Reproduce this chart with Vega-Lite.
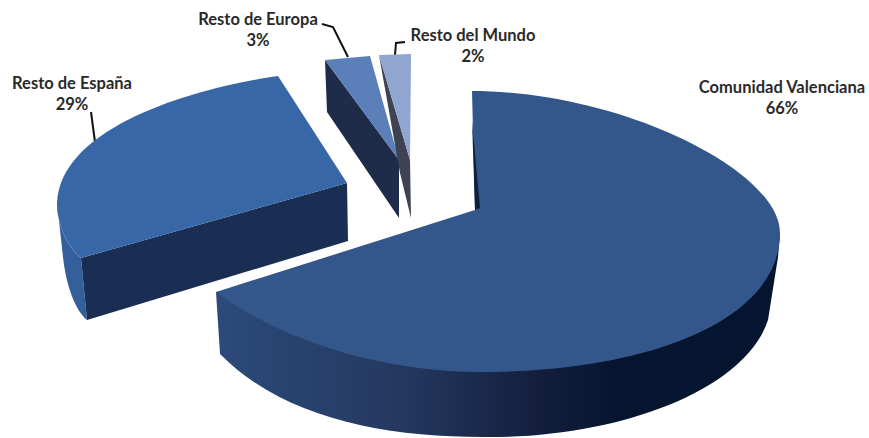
{
"$schema":"https://vega.github.io/schema/vega-lite/v6.json",
"width":869,"height":438,"padding":0,"autosize":"none","background":"white",
"config":{"view":{"stroke":null}},
"data":{"values":[
{"sector":"Resto de España","share":29},
{"sector":"Resto de Europa","share":3},
{"sector":"Resto del Mundo","share":2},
{"sector":"Comunidad Valenciana","share":66}]},
"transform":[{"calculate":"datum.sector + '\\n' + datum.share + '%'","as":"label"}],
"encoding":{
"x":{"field":"sector","type":"nominal","axis":null,"scale":{"domain":["Resto de España","Resto de Europa","Resto del Mundo","Comunidad Valenciana"],"range":[347,476],"padding":0}},
"y":{"field":"sector","type":"nominal","axis":null,"scale":{"domain":["Resto de España","Resto de Europa","Resto del Mundo","Comunidad Valenciana"],"range":[183,210],"padding":0}}
},
"layer":[
{"transform":[{"filter":"datum.sector==='Resto de España'"}],"mark":{"type":"point","size":4,"opacity":1,"filled":false,"stroke":"#111111","strokeWidth":2,"shape":"M-252,-41 L-256,-71"}},
{"transform":[{"filter":"datum.sector==='Resto de España'"}],"mark":{"type":"point","size":4,"opacity":1,"filled":true,"fill":"#33609b","shape":"M-290,20 L-284,74 C-281,102,-272,127,-260,137 L-266,75 C-279,65,-290,42,-290,20 Z"}},
{"transform":[{"filter":"datum.sector==='Resto de España'"}],"mark":{"type":"point","size":4,"opacity":1,"filled":true,"fill":"#1a2d52","shape":"M-266,75 L0,0 L1,58 L-260,137 Z"}},
{"transform":[{"filter":"datum.sector==='Resto de España'"}],"mark":{"type":"point","size":4,"opacity":1,"filled":true,"fill":"#3767a6","shape":"M-69,-107 C-147,-96,-287,-58,-290,20 C-290,42,-279,65,-266,75 L0,0 Z"}},
{"transform":[{"filter":"datum.sector==='Resto de Europa'"}],"mark":{"type":"point","size":4,"opacity":1,"filled":false,"stroke":"#111111","strokeWidth":2,"shape":"M-42,-135 L-57,-165 L-68,-168"}},
{"transform":[{"filter":"datum.sector==='Resto de Europa'"}],"mark":{"type":"point","size":4,"opacity":1,"filled":true,"fill":"#1e2c4a","shape":"M-65,-132 L-63,-80 L9,26 L9,-32 Z"}},
{"transform":[{"filter":"datum.sector==='Resto de Europa'"}],"mark":{"type":"point","size":4,"opacity":1,"filled":true,"fill":"#5b7fb9","shape":"M-65,-132 L-20,-136 L9,-32 Z"}},
{"transform":[{"filter":"datum.sector==='Resto del Mundo'"}],"mark":{"type":"point","size":4,"opacity":1,"filled":false,"stroke":"#111111","strokeWidth":2,"shape":"M-38,-146 L-37,-158 L-28,-159"}},
{"transform":[{"filter":"datum.sector==='Resto del Mundo'"}],"mark":{"type":"point","size":4,"opacity":1,"filled":true,"fill":"#3e4252","shape":"M-54,-146 L-23,-41 L-22,17 L-33,-28 Z"}},
{"transform":[{"filter":"datum.sector==='Resto del Mundo'"}],"mark":{"type":"point","size":4,"opacity":1,"filled":true,"fill":"#90a5cf","shape":"M-54,-146 L-22,-147 L-23,-41 Z"}},
{"transform":[{"filter":"datum.sector==='Comunidad Valenciana'"}],"mark":{"type":"point","size":4,"opacity":1,"filled":true,"fill":{"gradient":"linear","x1":0,"y1":0,"x2":1,"y2":0,"stops":[{"offset":0,"color":"#2c4a7a"},{"offset":0.33,"color":"#24385f"},{"offset":0.57,"color":"#131f3d"},{"offset":0.71,"color":"#06152f"},{"offset":1,"color":"#051530"}]},"shape":"M-260,82 L-256,144 C-191,210,-86,228,14,227 C144,227,269,180,292,110 L302,47 L304,23 Z"}},
{"transform":[{"filter":"datum.sector==='Comunidad Valenciana'"}],"mark":{"type":"point","size":4,"opacity":1,"filled":true,"fill":"#34578b","shape":"M-4,-119 C144,-119,304,-40,304,23 C304,110,174,162,4,162 C-96,162,-196,130,-260,82 L-1,0 Z"}},
{"transform":[{"filter":"datum.sector==='Comunidad Valenciana'"}],"mark":{"type":"point","size":4,"opacity":1,"filled":true,"fill":"#0f1f3d","shape":"M-4,-90 L-1,0 L4,-2 Z"}},
{"transform":[{"filter":"datum.sector==='Resto de España'"}],"mark":{"type":"text","font":"Lato","fontSize":16.5,"fontWeight":"bold","fill":"#2a2a2a","align":"center","baseline":"alphabetic","lineBreak":"\n","lineHeight":21,"dx":-275,"dy":-94},"encoding":{"text":{"field":"label"}}},
{"transform":[{"filter":"datum.sector==='Resto de Europa'"}],"mark":{"type":"text","font":"Lato","fontSize":16.5,"fontWeight":"bold","fill":"#2a2a2a","align":"center","baseline":"alphabetic","lineBreak":"\n","lineHeight":21,"dx":-132,"dy":-167},"encoding":{"text":{"field":"label"}}},
{"transform":[{"filter":"datum.sector==='Resto del Mundo'"}],"mark":{"type":"text","font":"Lato","fontSize":16.5,"fontWeight":"bold","fill":"#2a2a2a","align":"center","baseline":"alphabetic","lineBreak":"\n","lineHeight":21,"dx":40,"dy":-160},"encoding":{"text":{"field":"label"}}},
{"transform":[{"filter":"datum.sector==='Comunidad Valenciana'"}],"mark":{"type":"text","font":"Lato","fontSize":16.5,"fontWeight":"bold","fill":"#2a2a2a","align":"center","baseline":"alphabetic","lineBreak":"\n","lineHeight":21,"dx":306,"dy":-117},"encoding":{"text":{"field":"label"}}}
]
}
